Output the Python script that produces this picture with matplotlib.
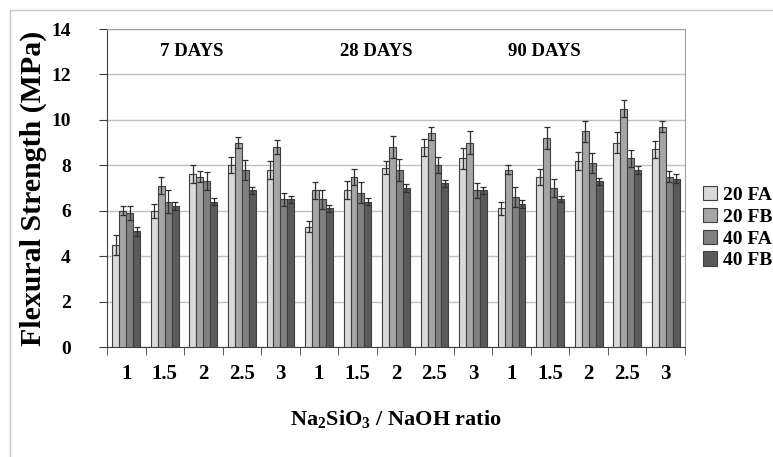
import numpy as np
import matplotlib
matplotlib.use('Agg')
import matplotlib.pyplot as plt
from matplotlib.patches import Rectangle

plt.rcParams['font.family'] = 'Liberation Serif'
plt.rcParams['font.weight'] = 'bold'
plt.rcParams['mathtext.fontset'] = 'custom'
plt.rcParams['mathtext.rm'] = 'Liberation Serif:bold'
plt.rcParams['mathtext.bf'] = 'Liberation Serif:bold'

ratios = ['1', '1.5', '2', '2.5', '3'] * 3
ages = ['7 DAYS', '28 DAYS', '90 DAYS']
series = ['20 FA', '20 FB', '40 FA', '40 FB']
colors = ['#d9d9d9', '#a6a6a6', '#808080', '#5a5a5a']

fa20 = [4.5, 6.0, 7.6, 8.0, 7.8, 5.3, 6.9, 7.9, 8.8, 8.3, 6.1, 7.5, 8.2, 9.0, 8.7]
fb20 = [6.0, 7.1, 7.5, 9.0, 8.8, 6.9, 7.5, 8.8, 9.4, 9.0, 7.8, 9.2, 9.5, 10.5, 9.7]
fa40 = [5.9, 6.4, 7.3, 7.8, 6.5, 6.5, 6.8, 7.8, 8.0, 6.9, 6.6, 7.0, 8.1, 8.3, 7.5]
fb40 = [5.1, 6.2, 6.4, 6.9, 6.5, 6.1, 6.4, 7.0, 7.2, 6.9, 6.3, 6.5, 7.3, 7.8, 7.4]

fa20_err = [0.45, 0.3, 0.4, 0.35, 0.4, 0.25, 0.4, 0.3, 0.37, 0.45, 0.28, 0.35, 0.4, 0.46, 0.38]
fb20_err = [0.2, 0.37, 0.24, 0.24, 0.3, 0.38, 0.35, 0.47, 0.3, 0.5, 0.2, 0.48, 0.47, 0.37, 0.24]
fa40_err = [0.3, 0.5, 0.4, 0.45, 0.3, 0.43, 0.45, 0.47, 0.35, 0.33, 0.43, 0.38, 0.44, 0.37, 0.23]
fb40_err = [0.2, 0.17, 0.15, 0.16, 0.15, 0.15, 0.15, 0.16, 0.15, 0.15, 0.17, 0.13, 0.16, 0.18, 0.2]

values = [fa20, fb20, fa40, fb40]
errors = [fa20_err, fb20_err, fa40_err, fb40_err]

fig = plt.figure(figsize=(7.73, 4.57), dpi=100)
# light outer frame
fig.patches.append(Rectangle((10 / 773, -0.1), 1.1, 1 - 10 / 457 + 0.1,
                             transform=fig.transFigure, fill=False,
                             edgecolor='#c8c8c8', linewidth=1))
ax = fig.add_axes([0.1384, 0.2407, 0.7478, 0.6958])

x = np.arange(len(ratios))
w = 0.18
for k in range(4):
    ax.bar(x + (k - 1.5) * w, values[k], w, color=colors[k], edgecolor='#404040',
           linewidth=0.8, label=series[k], zorder=3,
           yerr=errors[k], error_kw=dict(ecolor='#303030', elinewidth=0.9,
                                         capsize=2.5, capthick=0.9, zorder=4))

ax.set_xlim(-0.5, len(ratios) - 0.5)
ax.set_ylim(0, 14)
ax.set_yticks(np.arange(0, 15, 2))
ax.yaxis.grid(True, color='#c0c0c0', linewidth=1, zorder=0)
ax.set_axisbelow(True)

ax.set_xticks(x)
ax.set_xticklabels(ratios, fontsize=15)
ax.set_xticks(np.arange(-0.5, len(ratios)), minor=True)
ax.tick_params(axis='x', which='major', length=0, pad=12)
ax.tick_params(axis='x', which='minor', length=6, direction='out', color='#404040')
ax.tick_params(axis='y', length=6, direction='out', color='#404040', pad=20, labelsize=14)

for s in ['top', 'right']:
    ax.spines[s].set_color('#a0a0a0')
for s in ['left', 'bottom']:
    ax.spines[s].set_color('#404040')

age_pos = [1.7, 6.5, 10.85]
for a, p in zip(ages, age_pos):
    ax.text(p, 13.0, a, ha='center', va='center', fontsize=13.5, fontweight='bold')

ax.set_ylabel('Flexural Strength (MPa)', fontsize=21.5, fontweight='bold', labelpad=3)
ax.set_xlabel(r'Na$_\mathbf{2}$SiO$_\mathbf{3}$ / NaOH ratio', fontsize=16,
              fontweight='bold', labelpad=18)

ax.legend(loc='center left', bbox_to_anchor=(1.0, 0.375), frameon=False,
          fontsize=14, handlelength=0.75, handleheight=0.75, handletextpad=0.3,
          labelspacing=0.2)

fig.savefig('out.png', dpi=100)
